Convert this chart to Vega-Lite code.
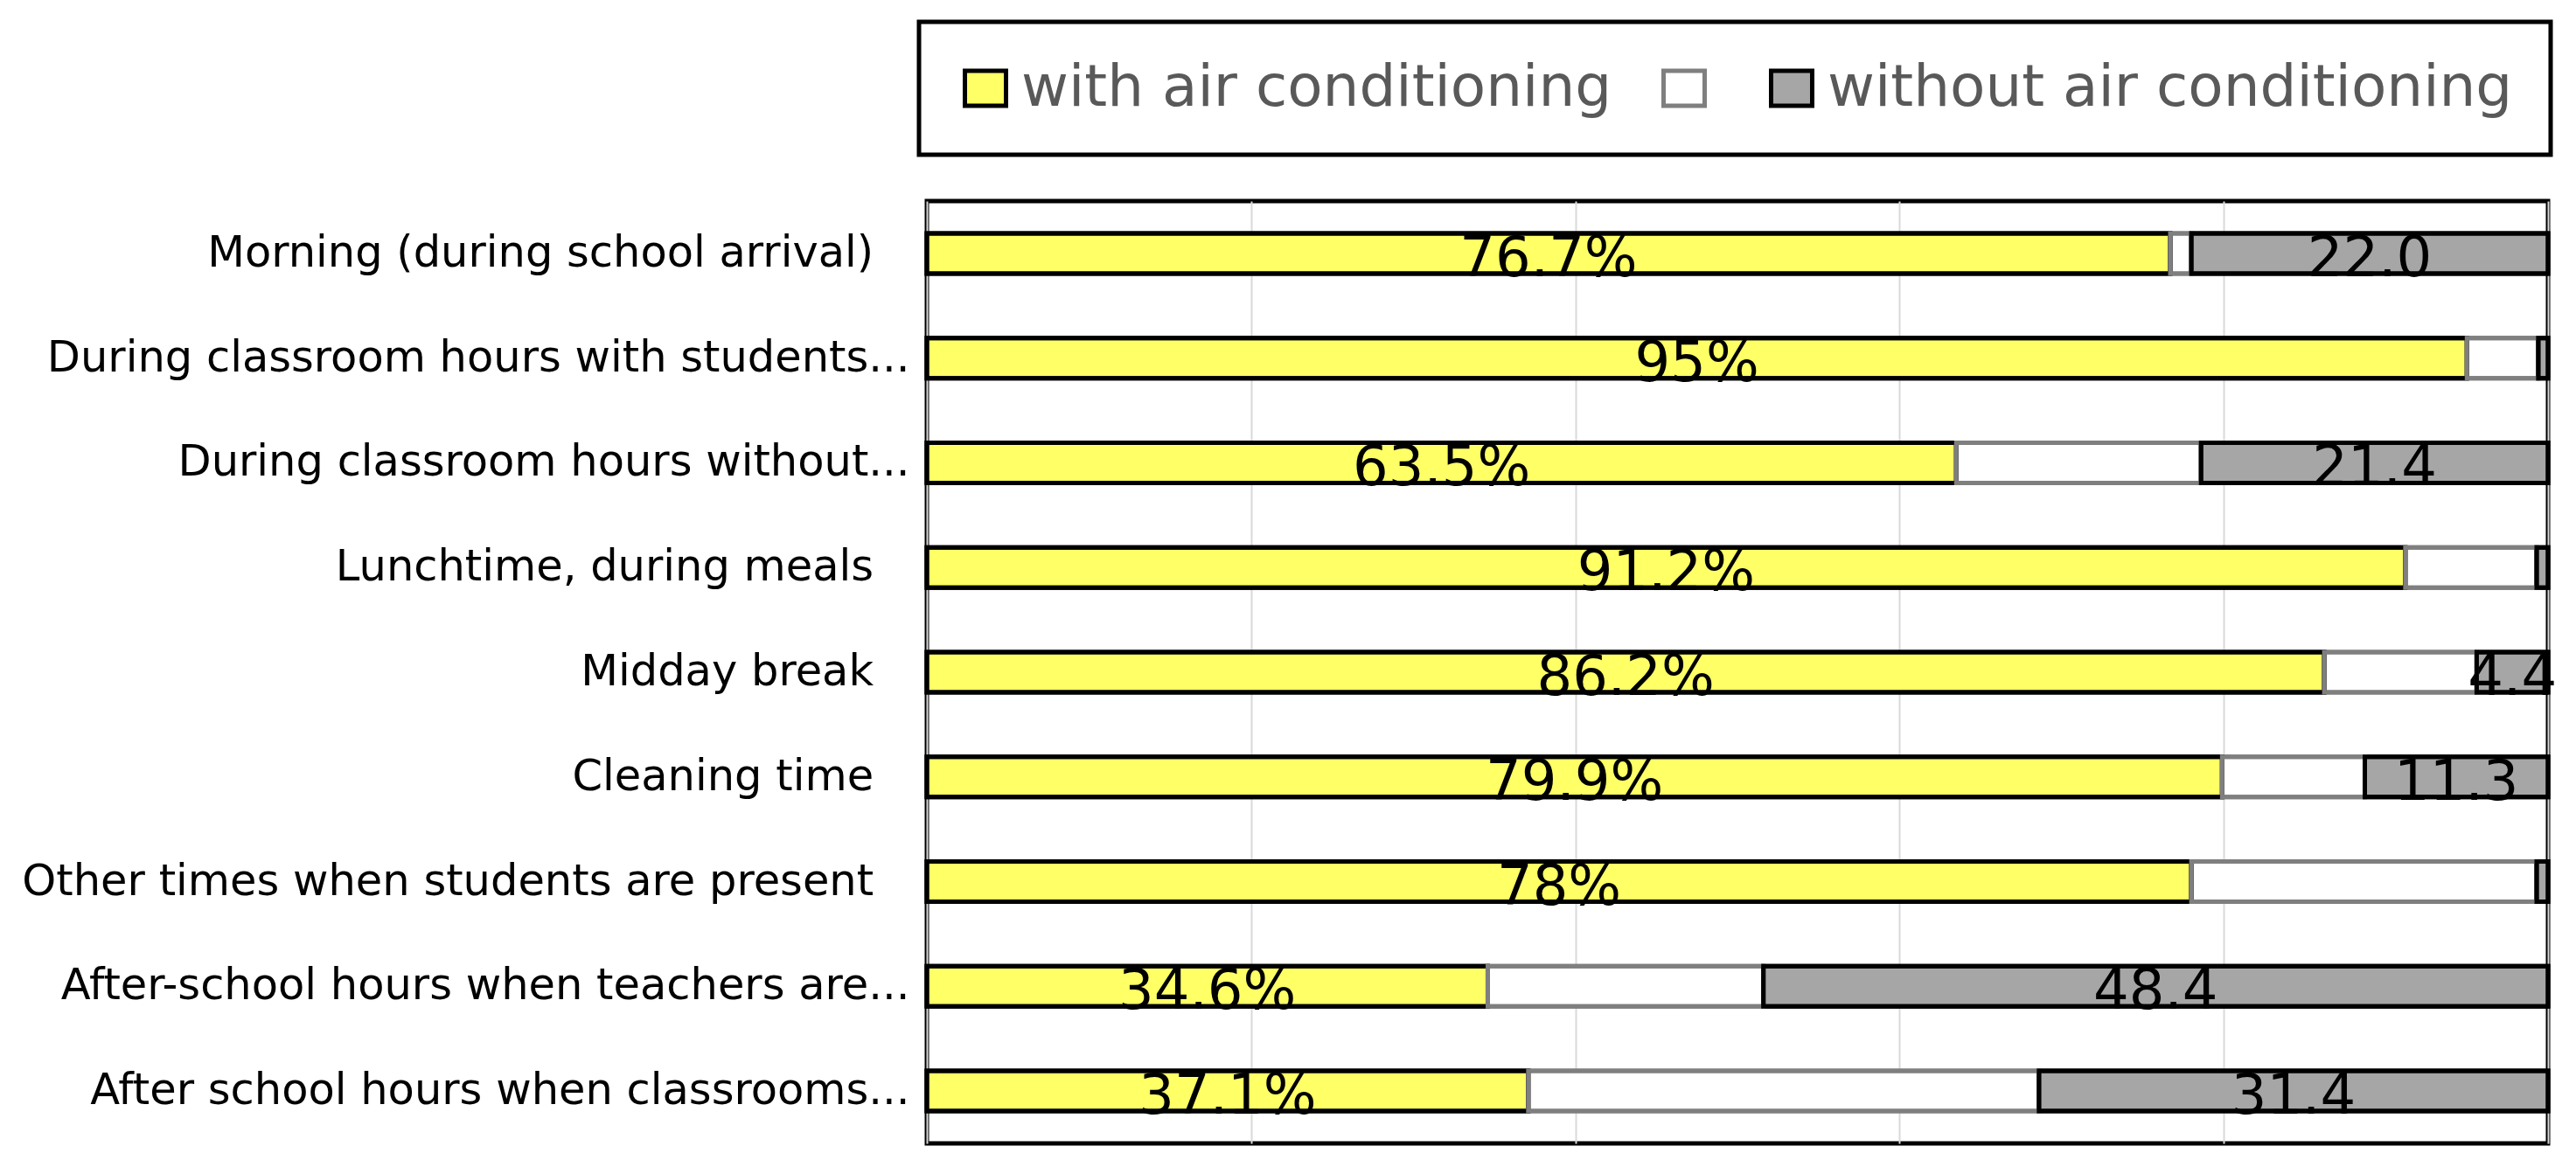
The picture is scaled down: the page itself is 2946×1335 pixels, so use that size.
{
  "$schema": "https://vega.github.io/schema/vega-lite/v6.json",
  "width": 1854,
  "height": 1078,
  "autosize": {"type": "none"},
  "padding": {"left": 1060, "top": 230, "right": 32, "bottom": 27},
  "background": "white",
  "config": {"view": {"stroke": "black", "strokeWidth": 5}, "font": "DejaVu Sans", "legend": {"strokeWidth": 5}},
  "data": {"values": [
    {"task": "Morning (during school arrival)\u2007\u2009\u2060", "seg": "with air conditioning", "ord": 1, "value": 76.7, "lab": "76.7%"},
    {"task": "Morning (during school arrival)\u2007\u2009\u2060", "seg": "no answer", "ord": 2, "value": 1.3, "lab": ""},
    {"task": "Morning (during school arrival)\u2007\u2009\u2060", "seg": "without air conditioning", "ord": 3, "value": 22.0, "lab": "22.0"},
    {"task": "During classroom hours with students...", "seg": "with air conditioning", "ord": 1, "value": 95, "lab": "95%"},
    {"task": "During classroom hours with students...", "seg": "no answer", "ord": 2, "value": 4.4, "lab": ""},
    {"task": "During classroom hours with students...", "seg": "without air conditioning", "ord": 3, "value": 0.6, "lab": ""},
    {"task": "During classroom hours without...", "seg": "with air conditioning", "ord": 1, "value": 63.5, "lab": "63.5%"},
    {"task": "During classroom hours without...", "seg": "no answer", "ord": 2, "value": 15.1, "lab": ""},
    {"task": "During classroom hours without...", "seg": "without air conditioning", "ord": 3, "value": 21.4, "lab": "21.4"},
    {"task": "Lunchtime, during meals\u2007\u2009\u2060", "seg": "with air conditioning", "ord": 1, "value": 91.2, "lab": "91.2%"},
    {"task": "Lunchtime, during meals\u2007\u2009\u2060", "seg": "no answer", "ord": 2, "value": 8.1, "lab": ""},
    {"task": "Lunchtime, during meals\u2007\u2009\u2060", "seg": "without air conditioning", "ord": 3, "value": 0.7, "lab": ""},
    {"task": "Midday break\u2007\u2009\u2060", "seg": "with air conditioning", "ord": 1, "value": 86.2, "lab": "86.2%"},
    {"task": "Midday break\u2007\u2009\u2060", "seg": "no answer", "ord": 2, "value": 9.4, "lab": ""},
    {"task": "Midday break\u2007\u2009\u2060", "seg": "without air conditioning", "ord": 3, "value": 4.4, "lab": "4.4"},
    {"task": "Cleaning time\u2007\u2009\u2060", "seg": "with air conditioning", "ord": 1, "value": 79.9, "lab": "79.9%"},
    {"task": "Cleaning time\u2007\u2009\u2060", "seg": "no answer", "ord": 2, "value": 8.8, "lab": ""},
    {"task": "Cleaning time\u2007\u2009\u2060", "seg": "without air conditioning", "ord": 3, "value": 11.3, "lab": "11.3"},
    {"task": "Other times when students are present\u2007\u2009\u2060", "seg": "with air conditioning", "ord": 1, "value": 78, "lab": "78%"},
    {"task": "Other times when students are present\u2007\u2009\u2060", "seg": "no answer", "ord": 2, "value": 21.3, "lab": ""},
    {"task": "Other times when students are present\u2007\u2009\u2060", "seg": "without air conditioning", "ord": 3, "value": 0.7, "lab": ""},
    {"task": "After-school hours when teachers are...", "seg": "with air conditioning", "ord": 1, "value": 34.6, "lab": "34.6%"},
    {"task": "After-school hours when teachers are...", "seg": "no answer", "ord": 2, "value": 17.0, "lab": ""},
    {"task": "After-school hours when teachers are...", "seg": "without air conditioning", "ord": 3, "value": 48.4, "lab": "48.4"},
    {"task": "After school hours when classrooms...", "seg": "with air conditioning", "ord": 1, "value": 37.1, "lab": "37.1%"},
    {"task": "After school hours when classrooms...", "seg": "no answer", "ord": 2, "value": 31.5, "lab": ""},
    {"task": "After school hours when classrooms...", "seg": "without air conditioning", "ord": 3, "value": 31.4, "lab": "31.4"}
  ]},
  "transform": [
    {"stack": "value", "groupby": ["task"], "sort": [{"field": "ord", "order": "ascending"}], "as": ["x0", "x1"]}
  ],
  "encoding": {
    "y": {
      "field": "task", "type": "nominal", "sort": null,
      "scale": {"paddingInner": 0, "paddingOuter": 0},
      "axis": {"title": null, "domain": false, "ticks": false, "labelFont": "DejaVu Sans", "labelFontSize": 49.5, "labelColor": "black", "labelPadding": 20, "labelLimit": 0}
    }
  },
  "layer": [
    {
      "mark": {"type": "bar", "height": 46, "strokeWidth": 5},
      "encoding": {
        "x": {
          "field": "x0", "type": "quantitative",
          "scale": {"domain": [0, 100], "nice": false},
          "axis": {"title": null, "labels": false, "ticks": false, "domain": false, "grid": true, "gridColor": "#D9D9D9", "gridWidth": 2, "values": [0, 20, 40, 60, 80, 100]}
        },
        "x2": {"field": "x1"},
        "color": {
          "field": "seg", "type": "nominal",
          "scale": {"domain": ["with air conditioning", "no answer", "without air conditioning"], "range": ["#FFFF66", "#FFFFFF", "#A6A6A6"]},
          "legend": {"orient": "none", "legendX": -9, "legendY": -205, "direction": "horizontal", "title": null, "symbolType": "M-1.175,-1H1.175V1H-1.175Z", "symbolSize": 1600, "symbolStrokeWidth": 5, "symbolOpacity": 1, "labelFont": "DejaVu Sans", "labelFontSize": 66, "labelColor": "#595959", "labelOffset": 8, "columnPadding": 48, "padding": 43, "strokeColor": "black", "labelLimit": 0, "labelExpr": "datum.label == 'no answer' ? '' : datum.label"}
        },
        "stroke": {
          "field": "seg", "type": "nominal",
          "scale": {"domain": ["with air conditioning", "no answer", "without air conditioning"], "range": ["#000000", "#7F7F7F", "#000000"]},
          "legend": {"orient": "none", "legendX": -9, "legendY": -205, "direction": "horizontal", "title": null, "symbolType": "M-1.175,-1H1.175V1H-1.175Z", "symbolSize": 1600, "symbolStrokeWidth": 5, "symbolOpacity": 1, "labelFont": "DejaVu Sans", "labelFontSize": 66, "labelColor": "#595959", "labelOffset": 8, "columnPadding": 48, "padding": 43, "strokeColor": "black", "labelLimit": 0, "labelExpr": "datum.label == 'no answer' ? '' : datum.label"}
        }
      }
    },
    {
      "transform": [
        {"filter": "datum.lab != ''"},
        {"fold": ["x0", "x1"], "as": ["edgeName", "edge"]},
        {"aggregate": [{"op": "mean", "field": "edge", "as": "mid"}], "groupby": ["task", "seg", "lab"]}
      ],
      "mark": {"type": "text", "font": "DejaVu Sans", "fontSize": 64, "baseline": "alphabetic", "dy": 26, "color": "black"},
      "encoding": {
        "x": {"field": "mid", "type": "quantitative"},
        "text": {"field": "lab"}
      }
    },
    {
      "mark": {"type": "bar", "height": 46, "strokeWidth": 5, "fill": "transparent"},
      "encoding": {
        "x": {"field": "x0", "type": "quantitative"},
        "x2": {"field": "x1"},
        "stroke": {
          "field": "seg", "type": "nominal",
          "scale": {"domain": ["with air conditioning", "no answer", "without air conditioning"], "range": ["#000000", "#7F7F7F", "#000000"]},
          "legend": {"orient": "none", "legendX": -9, "legendY": -205, "direction": "horizontal", "title": null, "symbolType": "M-1.175,-1H1.175V1H-1.175Z", "symbolSize": 1600, "symbolStrokeWidth": 5, "symbolOpacity": 1, "labelFont": "DejaVu Sans", "labelFontSize": 66, "labelColor": "#595959", "labelOffset": 8, "columnPadding": 48, "padding": 43, "strokeColor": "black", "labelLimit": 0, "labelExpr": "datum.label == 'no answer' ? '' : datum.label"}
        }
      }
    }
  ]
}
